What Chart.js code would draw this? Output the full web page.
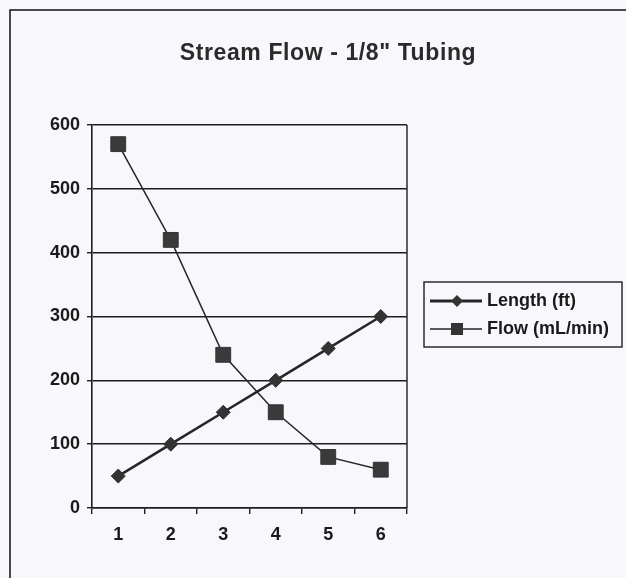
<!DOCTYPE html>
<html>
<head>
<meta charset="utf-8">
<script src="https://cdn.jsdelivr.net/npm/chart.js@4"></script>
<style>
  html, body { margin: 0; padding: 0; background: #f8f8fc; }
  canvas { display: block; }
</style>
</head>
<body>
<canvas id="grafico" width="626" height="578"></canvas>
<script>
// Dados da vazão
const categorias = ['1', '2', '3', '4', '5', '6'];
const comprimento = [50, 100, 150, 200, 250, 300];
const vazao = [570, 420, 240, 150, 80, 60];
const rotulosY = [0, 100, 200, 300, 400, 500, 600];

const titulo = 'Stream Flow - 1/8" Tubing';
const corLinha = '#262626';
const fonte = '"Liberation Sans", Arial, sans-serif';

// Fundo, moldura externa, título e legenda
const moldura = {
  id: 'moldura',
  beforeDraw(chart) {
    const { ctx } = chart;
    ctx.save();
    ctx.fillStyle = '#f8f8fc';
    ctx.fillRect(0, 0, chart.width, chart.height);
    ctx.strokeStyle = '#1e1e1e';
    ctx.lineWidth = 1.6;
    ctx.strokeRect(10, 10, chart.width + 20, chart.height + 20);
    ctx.restore();
  },
  afterDraw(chart) {
    const { ctx, chartArea } = chart;
    ctx.save();

    // borda direita da área de plotagem
    ctx.strokeStyle = '#1e1e1e';
    ctx.lineWidth = 1.4;
    ctx.beginPath();
    ctx.moveTo(chartArea.right, chartArea.top);
    ctx.lineTo(chartArea.right, chartArea.bottom);
    ctx.stroke();

    // título
    ctx.fillStyle = '#2a2a2a';
    ctx.font = 'bold 23px ' + fonte;
    ctx.letterSpacing = '0.6px';
    ctx.textAlign = 'center';
    ctx.textBaseline = 'alphabetic';
    ctx.fillText(titulo, 328, 60);
    ctx.letterSpacing = '0px';

    // legenda
    ctx.strokeRect(424, 282, 198, 65);
    const linhas = [
      { y: 301, largura: 3, marcador: 'diamante' },
      { y: 329, largura: 1.5, marcador: 'quadrado' }
    ];
    chart.data.datasets.forEach((ds, i) => {
      const l = linhas[i];
      ctx.strokeStyle = corLinha;
      ctx.lineWidth = l.largura;
      ctx.beginPath();
      ctx.moveTo(430, l.y);
      ctx.lineTo(482, l.y);
      ctx.stroke();
      ctx.fillStyle = '#333';
      ctx.beginPath();
      if (l.marcador === 'diamante') {
        ctx.moveTo(457, l.y - 6);
        ctx.lineTo(463, l.y);
        ctx.lineTo(457, l.y + 6);
        ctx.lineTo(451, l.y);
        ctx.closePath();
      } else {
        ctx.rect(451, l.y - 6, 12, 12);
      }
      ctx.fill();
      ctx.fillStyle = '#1a1a1a';
      ctx.font = 'bold 18px ' + fonte;
      ctx.textAlign = 'left';
      ctx.textBaseline = 'middle';
      ctx.fillText(ds.label, 487, l.y);
    });
    ctx.restore();
  }
};

new Chart(document.getElementById('grafico'), {
  type: 'line',
  data: {
    labels: categorias,
    datasets: [
      {
        label: 'Length (ft)',
        data: comprimento,
        borderColor: corLinha,
        borderWidth: 2.6,
        pointStyle: 'rectRot',
        pointRadius: 7,
        pointBackgroundColor: '#333',
        pointBorderColor: '#333',
        pointBorderWidth: 1,
        tension: 0
      },
      {
        label: 'Flow (mL/min)',
        data: vazao,
        borderColor: corLinha,
        borderWidth: 1.5,
        pointStyle: 'rect',
        pointRadius: 10.5,
        pointBackgroundColor: '#3a3a3a',
        pointBorderColor: '#333',
        pointBorderWidth: 1,
        tension: 0
      }
    ]
  },
  options: {
    responsive: false,
    animation: false,
    layout: { padding: { left: 10, top: 125, right: 219, bottom: 30 } },
    plugins: {
      legend: { display: false },
      title: { display: false },
      tooltip: { enabled: false }
    },
    scales: {
      x: {
        type: 'category',
        offset: true,
        afterFit(scale) { scale.height = 40; },
        border: { display: true, color: '#1e1e1e', width: 1.6 },
        grid: {
          offset: true,
          drawOnChartArea: false,
          drawTicks: true,
          tickLength: 6,
          color: '#1e1e1e',
          lineWidth: 1.4
        },
        ticks: {
          color: '#1a1a1a',
          padding: 10,
          font: { family: fonte, size: 18, weight: 'bold' }
        }
      },
      y: {
        min: rotulosY[0],
        max: rotulosY[rotulosY.length - 1],
        afterFit(scale) { scale.width = 82; },
        afterBuildTicks(scale) {
          scale.ticks = rotulosY.map(v => ({ value: v }));
        },
        border: { display: true, color: '#1e1e1e', width: 1.6 },
        grid: {
          drawTicks: true,
          tickLength: 5,
          color: '#1e1e1e',
          lineWidth: 1.4
        },
        ticks: {
          color: '#1a1a1a',
          padding: 7,
          font: { family: fonte, size: 18, weight: 'bold' }
        }
      }
    }
  },
  plugins: [moldura]
});
</script>
</body>
</html>
